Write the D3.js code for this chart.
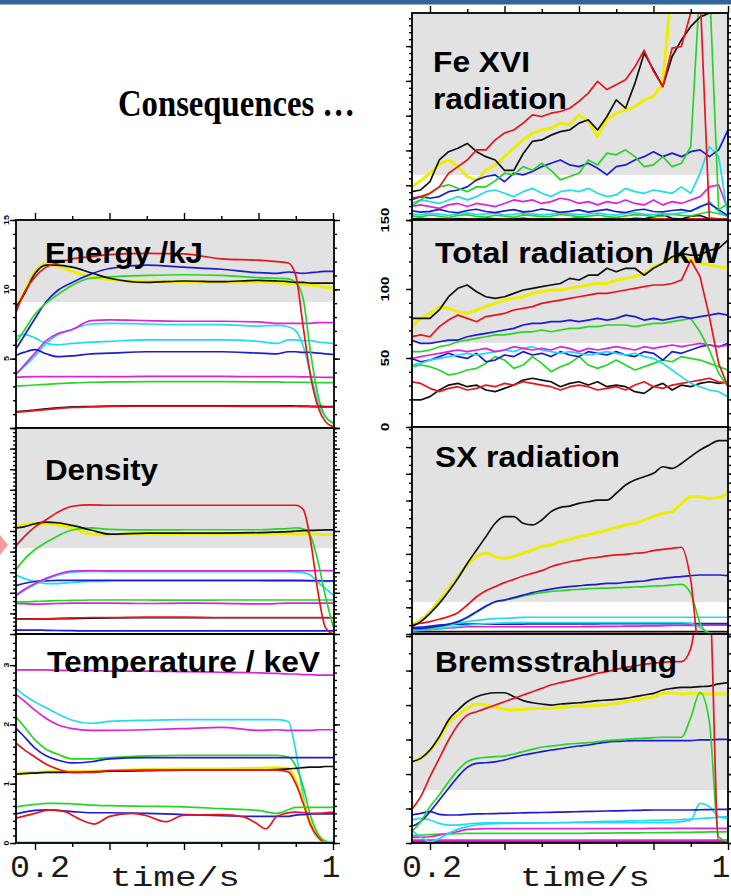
<!DOCTYPE html>
<html><head><meta charset="utf-8">
<script src="https://cdn.jsdelivr.net/npm/d3@7"></script>
<style>body{margin:0;background:#fff;} svg{display:block;}</style>
</head><body>
<script>
// ---------------- time grids ----------------
const tL = [0.15,0.17,0.2,0.23,0.26,0.3,0.35,0.4,0.5,0.6,0.7,0.8,0.85,0.88,0.9,0.92,0.94,0.96,0.98,1.0];
const tR = [0.15,0.175,0.2,0.225,0.25,0.275,0.3,0.325,0.35,0.375,0.4,0.425,0.45,0.475,0.5,0.525,0.55,0.575,0.6,0.625,0.65,0.675,0.7,0.725,0.75,0.775,0.8,0.825,0.85,0.875,0.9,0.925,0.95,0.975,1.0];
const tEnds = [0.15, 1.0];
const tpRed2Time = [0.15,0.2,0.24,0.28,0.3,0.32,0.36,0.4,0.46,0.5,0.55,0.6,0.7,0.76,0.79,0.82,0.85,0.9,0.95,1.0];
const xMajorTicks = [0.2,0.4,0.6,0.8,1.0];
const xMinorTicks = [0.3,0.5,0.7,0.9];

// ---------------- Energy /kJ ----------------
const enRed = [8.4,9.7,10.9,11.6,11.9,12.2,12.35,12.5,12.6,12.55,12.2,12.1,12.0,11.9,11.0,7.3,3.7,1.5,0.45,0.1];
const enBlack = [8.75,9.6,11.15,11.75,11.75,11.6,11.2,10.8,10.5,10.6,10.55,10.65,10.6,10.55,10.5,10.5,10.45,10.45,10.45,10.45];
const enYellow = [8.7,9.7,11.3,11.85,11.7,11.3,10.9,10.7,10.55,10.55,10.5,10.55,10.5,10.4,10.4,10.35,10.3,10.25,10.15,10.1];
const enBlue = [5.75,6.6,7.9,9.1,9.9,10.5,11.1,11.5,11.75,11.6,11.45,11.2,11.15,11.25,11.2,11.15,11.2,11.25,11.3,11.3];
const enGreen = [6.2,7.0,8.2,9.0,9.6,10.3,10.8,10.9,11.0,11.05,11.0,10.85,10.8,10.75,10.5,9.3,5.4,2.3,0.8,0.35];
const enMagenta = [3.9,4.5,5.4,6.3,6.8,7.1,7.75,7.8,7.75,7.7,7.7,7.65,7.55,7.55,7.55,7.55,7.55,7.6,7.6,7.6];
const enCyan = [6.6,6.75,6.5,6.1,6.0,6.1,6.2,6.25,6.35,6.35,6.35,6.25,6.1,6.35,6.35,6.3,6.3,6.2,6.15,6.1];
const enCyan2 = [3.9,4.4,5.2,6.1,6.7,7.1,7.5,7.55,7.5,7.45,7.45,7.35,7.4,7.3,7.0,5.9,3.9,1.8,0.8,0.4];
const enBlue2 = [5.25,5.45,5.65,5.35,5.15,5.2,5.35,5.4,5.5,5.5,5.5,5.4,5.35,5.5,5.5,5.45,5.45,5.4,5.35,5.3];
const enMagenta2 = [3.65,3.68,3.7,3.7,3.7,3.7,3.7,3.7,3.72,3.72,3.72,3.7,3.7,3.7,3.7,3.68,3.68,3.66,3.65,3.65];
const enGreen2 = [3.03,3.05,3.1,3.15,3.2,3.25,3.3,3.32,3.35,3.35,3.35,3.33,3.32,3.3,3.3,3.3,3.28,3.27,3.27,3.27];
const enBlack2 = [1.18,1.22,1.3,1.38,1.45,1.52,1.55,1.58,1.6,1.6,1.6,1.6,1.6,1.6,1.58,1.58,1.57,1.56,1.55,1.55];
const enRed2 = [1.15,1.18,1.25,1.33,1.4,1.48,1.52,1.55,1.57,1.57,1.57,1.56,1.56,1.55,1.55,1.54,1.53,1.52,1.5,1.5];
const enTickLabels = ["5","10","15"];

// ---------------- Density ----------------
const dnRed = [4.3,4.7,5.2,5.55,5.9,6.2,6.27,6.25,6.25,6.25,6.25,6.25,6.25,6.25,6.25,6.05,4.5,2.0,0.3,0.0];
const dnBlack = [5.15,5.2,5.35,5.43,5.4,5.27,5.05,4.85,4.9,4.9,4.9,4.92,4.95,4.97,5.0,5.02,5.03,5.04,5.05,5.05];
const dnYellow = [5.2,5.3,5.35,5.35,5.3,5.15,4.85,4.82,4.88,4.88,4.88,4.88,4.88,4.87,4.86,4.85,4.85,4.84,4.83,4.83];
const dnGreen = [3.15,3.6,4.1,4.45,4.75,5.05,5.15,5.08,5.05,5.06,5.06,5.06,5.1,5.12,5.15,5.1,4.75,3.5,1.8,0.4];
const dnMagenta = [1.9,2.15,2.45,2.7,2.9,3.05,3.08,3.06,3.06,3.06,3.06,3.06,3.06,3.06,3.07,3.07,3.07,3.08,3.08,3.08];
const dnCyan = [1.85,2.1,2.4,2.65,2.85,3.0,3.04,3.03,3.03,3.03,3.03,3.03,3.03,3.03,3.02,2.98,2.85,2.5,2.2,1.9];
const dnCyan2 = [2.85,2.7,2.55,2.45,2.45,2.5,2.55,2.56,2.57,2.57,2.57,2.57,2.57,2.57,2.56,2.56,2.56,2.55,2.55,2.55];
const dnBlue = [2.35,2.45,2.55,2.58,2.6,2.6,2.6,2.61,2.61,2.61,2.61,2.61,2.6,2.6,2.6,2.6,2.59,2.59,2.58,2.58];
const dnGreen2 = [1.56,1.56,1.58,1.6,1.62,1.63,1.65,1.65,1.65,1.64,1.65,1.65,1.65,1.65,1.65,1.65,1.65,1.65,1.65,1.65];
const dnMagenta2 = [1.48,1.47,1.45,1.46,1.48,1.5,1.5,1.5,1.48,1.5,1.49,1.46,1.48,1.5,1.5,1.5,1.5,1.5,1.5,1.5];
const dnRed2 = [0.72,0.72,0.73,0.74,0.76,0.78,0.8,0.8,0.82,0.82,0.8,0.8,0.8,0.8,0.8,0.8,0.8,0.8,0.8,0.8];
const dnBlack2 = [0.73,0.73,0.73,0.73,0.74,0.75,0.77,0.78,0.79,0.79,0.79,0.79,0.79,0.79,0.79,0.79,0.79,0.79,0.79,0.79];
const dnBlue2 = [0.19,0.19,0.19,0.18,0.17,0.16,0.15,0.15,0.15,0.15,0.15,0.15,0.15,0.15,0.15,0.15,0.15,0.15,0.15,0.15];

// ---------------- Temperature / keV ----------------
const tpMagenta = [2.92,2.92,2.92,2.92,2.91,2.91,2.91,2.9,2.9,2.89,2.88,2.87,2.86,2.85,2.85,2.84,2.84,2.83,2.83,2.83];
const tpCyan = [2.61,2.5,2.38,2.28,2.18,2.07,2.02,2.05,2.07,2.08,2.08,2.08,2.08,2.05,1.55,0.8,0.3,0.08,0.03,0.02];
const tpMagenta2 = [2.5,2.4,2.24,2.1,2.0,1.93,1.9,1.9,1.91,1.93,1.95,1.9,1.91,1.9,1.9,1.9,1.9,1.91,1.91,1.91];
const tpGreen = [2.12,1.97,1.74,1.58,1.5,1.42,1.42,1.44,1.47,1.48,1.48,1.48,1.48,1.45,1.3,0.95,0.45,0.15,0.03,0.0];
const tpBlue = [1.93,1.8,1.6,1.47,1.4,1.35,1.37,1.42,1.44,1.44,1.44,1.44,1.44,1.44,1.44,1.44,1.44,1.44,1.44,1.44];
const tpRed = [1.68,1.58,1.45,1.33,1.25,1.19,1.19,1.22,1.23,1.23,1.23,1.23,1.23,1.2,1.0,0.67,0.3,0.1,0.0,0.0];
const tpYellow = [1.18,1.18,1.19,1.2,1.2,1.21,1.21,1.22,1.24,1.25,1.25,1.26,1.27,1.26,1.05,0.7,0.32,0.1,0.0,0.0];
const tpBlack = [1.16,1.17,1.18,1.19,1.19,1.19,1.2,1.21,1.22,1.23,1.23,1.23,1.24,1.25,1.26,1.27,1.28,1.28,1.29,1.29];
const tpGreen2 = [0.61,0.63,0.65,0.67,0.67,0.66,0.64,0.63,0.62,0.61,0.58,0.55,0.5,0.56,0.6,0.6,0.6,0.6,0.6,0.6];
const tpBlue2 = [0.49,0.52,0.55,0.56,0.55,0.53,0.51,0.51,0.5,0.48,0.46,0.45,0.45,0.45,0.47,0.48,0.49,0.49,0.49,0.49];
const tpRed2 = [0.42,0.5,0.56,0.53,0.47,0.4,0.32,0.45,0.5,0.46,0.36,0.47,0.48,0.44,0.35,0.24,0.45,0.52,0.5,0.52];
const tpCyan0 = [0.01,0.01];
const tpTickLabels = ["0","1","2","3"];

// ---------------- Fe XVI radiation ----------------
const feBlack = [13.7,14.5,18.5,29,33,34.7,37,33,30.6,29,24,24,32,38,38.7,41,42.7,43.5,46.8,48.4,43.5,50,58,54,66,80.6,72.6,64.5,79,87,93.5,98,100,100,104];
const feRed = [10.5,11.3,12.9,16,22.6,25.8,29,33.9,33.9,38.7,42,43.5,46.8,50.8,50,51.6,52.4,54,57.3,61.3,67,63,65.3,67.7,74,82,71.8,64.5,83,83.9,100,110,1,0.5,0.5];
const feYellow = [16,19,22.6,27,29,25.8,21,19,24,26.6,30.6,34.7,38.7,42,43.5,44.4,46.8,46,50.8,47.6,40.3,48.4,51.6,53.2,54.8,58,59.7,66,115,115,115,115,115,115,115];
const feGreen = [6.5,9.7,12.9,16,17,15.3,13.7,16,16,19,22.6,21.8,25.8,24,27.4,24,19.4,21,22.6,29,26.6,32.3,31.5,33.9,30.6,25.8,26.6,30.6,25.8,27.4,35.5,115,115,5,8];
const feBlue = [9.7,11.3,10.5,11.3,13.7,14.5,16,19.4,21,21.8,18.5,22.6,21.8,23.4,25.8,27.4,29,26.6,25.8,27.4,25,21.8,25.8,26.6,29,30.6,33,30.6,32.3,30.6,33,33.9,30.6,33.9,43.5];
const feCyan = [8,9.7,8.9,8,9.7,11.3,9.7,11.3,13.7,14.5,12.9,11.3,13.7,15.3,12.9,11.3,13.7,14.5,13.7,15.3,12.9,11.3,12.1,15.3,13.7,12.9,14.5,13.7,12.9,16,12.9,22.6,35.5,30.6,1.6];
const feMagenta = [6.5,7.3,6.5,5.6,7.3,8,6.5,8,7.3,6.5,8,9.7,8.9,9.7,8,8.9,10.5,9.7,8,8.9,7.3,8.9,8,9.7,8,7.3,9.7,7.3,8.9,8,9.7,11.3,16,17,4.8];
const feBlue2 = [4.5,3.8,4.2,5.1,4.0,3.5,4.6,5.2,4.1,3.6,4.4,5.0,3.9,4.3,5.3,4.6,3.7,4.2,4.9,3.8,4.5,5.1,4.0,3.6,4.7,5.2,4.1,3.9,4.6,5.0,4.2,6.5,8.0,5.0,2.0];
const feCyan2 = [3.0,2.5,3.2,2.8,2.2,3.1,3.5,2.6,2.9,3.3,2.4,2.7,3.4,3.0,2.5,2.8,3.6,3.1,2.6,2.9,3.3,2.7,2.4,3.2,3.5,2.8,2.6,3.1,2.9,3.4,4.5,6,9,4,1.5];
const feGreen2 = [2.0,1.5,2.4,1.8,1.2,2.2,2.6,1.7,1.4,2.3,1.9,1.3,2.5,2.1,1.6,1.8,2.7,2.2,1.5,1.9,2.4,1.7,1.3,2.0,2.6,2.3,1.6,1.9,2.8,2.2,2.0,3,4,3,2];
const feBlack2 = [0.5,0.8,0.4,0.6,0.3,0.7,0.5,0.4,0.9,0.6,0.3,0.5,0.8,0.4,0.6,0.7,0.3,0.5,0.9,0.6,0.4,0.7,0.5,0.3,0.8,0.6,1.5,2.5,0.8,0.4,1.8,2.2,0.6,0.5,0.5];
const feRed2 = [0.6,0.6];

// ---------------- Total radiation /kW ----------------
const trBlack = [78.7,78.7,78.7,84.8,94.4,100.5,102.9,98,94.4,93.2,94.4,96.8,99.3,100.5,101.7,102.9,104,107.7,106.5,110,110,115,112.5,115,115,110,115,118.6,123.4,125.8,124.6,124.6,128,129.4,135.5];
const trYellow = [72.7,78.7,82.3,87.2,86,83.6,82.3,84.8,87.2,89.6,92,93.2,94.4,96.8,98,99.3,99.3,100.5,101.7,102.9,104,104,106.5,107.7,109,111.3,116.2,118.6,122.2,123.4,121,118.6,117.4,116.2,115];
const trRed = [65.4,66.7,65.4,72.7,77.5,81.1,78.7,76.3,80,81.1,82.3,84.8,86,87.2,89.6,90.8,92,93.2,94.4,95.6,96.8,96.8,98,99.3,100.5,101.7,102.9,102.9,104,106.5,121,109,80,46,29.2];
const trBlue = [63,60.6,60.6,61.8,63,63,65.4,66.7,67.9,69,70.3,71.5,73.9,75.1,75.1,76.3,76.3,77.5,76.3,77.5,78.7,77.5,78.7,81.1,80,77.5,78.7,77.5,78.7,80,78.7,80,81.1,82.3,81.1];
const trGreen = [54.6,54.6,55.8,58.2,59.4,61.8,63,64.2,65.4,66.7,66.7,67.9,69,69,70.3,69,70.3,71.5,71.5,72.7,72.7,73.9,73.9,73.9,72.7,73.9,75.1,75.1,76.3,77.5,78.7,69,55.8,38.9,29.2];
const trMagenta = [49.7,51,52.2,53.4,54.6,55.8,54.6,55.8,57,54.6,55.8,58.2,57,55.8,57,55.8,58.2,57,54.6,57,55.8,57,58.2,57,55.8,58.2,57,58.2,59.4,58.2,59.4,60.6,59.4,58.2,59.4];
const trCyan = [44.9,46.1,48.5,49.7,51,52.2,53.4,52.2,53.4,54.6,55.8,54.6,57,58.2,55.8,54.6,53.4,54.6,53.4,52.2,53.4,54.6,53.4,52.2,53.4,51,49.7,46.1,41.3,36.5,31.6,29.2,26.8,25.6,22];
const trBlue2 = [49.7,47.3,48.5,51,53.4,51,49.7,53.4,47.3,48.5,52.2,51,54.6,52.2,53.4,51,54.6,52.2,51,54.6,53.4,52.2,54.6,52.2,51,54.6,53.4,48.5,54.6,53.4,55.8,58.2,59.4,58.2,60.6];
const trGreen2 = [43.7,44.9,43.7,41.3,37.7,38.9,41.3,42.5,46.1,51,48.5,42.5,44.9,51,46.1,40.1,43.7,46.1,51,44.9,42.5,44.9,48.5,44.9,41.3,43.7,46.1,48.5,47.3,51,49.7,48.5,46.1,43.7,41.3];
const trRed2 = [32.8,31.6,28,25.6,28,29.2,26.8,28,30.4,29.2,31.6,30.4,32.8,31.6,30.4,29.2,26.8,29.2,30.4,29.2,26.8,28,29.2,26.8,30.4,32.8,29.2,28,30.4,31.6,32.8,34,35.3,32.8,31.6];
const trBlack2 = [19.6,19.6,22,26.8,30.4,31.6,29.2,30.4,26.8,25.6,28,30.4,34,35.3,34,32.8,29.2,31.6,32.8,30.4,32.8,29.2,30.4,29.2,25.6,24.4,29.2,31.6,26.8,30.4,29.2,31.6,32.8,31.6,32.8];
const trTickLabels = ["0","50","100","150"];

// ---------------- SX radiation ----------------
const sxBlack = [3.5,6,10,14.8,20.5,26.9,34.1,40.6,47,53.5,56.7,56.7,53.5,52.7,55.1,59.1,61.2,61.8,63.1,63.9,64.7,64.7,68,72,74.4,76,77.6,80.8,80,82.4,85.7,88.9,91.3,93.4,93.4];
const sxYellow = [4.3,6.8,10.8,16.4,22.1,27.7,33.3,37.4,39,37.4,36.6,37.4,39,40.6,42.2,43,44.6,45.7,47,47.8,49,50.2,51.5,52.7,53.5,55.1,56.7,58.3,59.1,63.1,66.3,66.3,65.5,66,68];
const sxRed = [4.3,5.2,6,7.1,8.4,10.3,14,18,20.9,22.9,24.8,26.4,28,29.3,30.6,32.5,33.8,34.9,35.7,36.6,37,37.7,38.2,38.5,39,39.3,40.3,40.9,41.4,41.9,26,-10,-10,-10,-10];
const sxBlue = [2.7,2.7,3.2,3.9,4.8,6,8.1,10.8,13.5,15.6,16.4,17.6,18.8,20,20.9,21.7,22.4,22.9,23.3,23.7,24,24.5,24.5,25,25.3,25.6,26.4,26.9,27.4,27.7,28.2,28.5,28.5,28.5,28.2];
const sxGreen = [2.3,2.3,2.7,3.5,4.5,5.8,7.9,10.5,13.2,15.5,16.4,17.2,18.4,19.3,20,20.6,20.9,21.3,21.6,21.9,22.1,22.2,22.4,22.5,22.7,22.9,23.2,23.3,23.7,24,19.6,5.2,0.3,-0.5,-0.5];
const sxCyan = [1.9,2.3,2.7,3.5,4.3,5.2,6,6.6,7.1,7.4,7.6,7.8,8,8.1,8.1,8.1,8.1,8.1,8.1,8.1,8.1,8.1,8.1,8.1,8.1,8.1,8.1,8.1,8.1,8.1,8.1,8.1,8.1,8.1,8.1];
const sxCyan2 = [1.5,1.8,2.2,2.7,3.2,3.7,4.2,4.6,5,5.2,5.4,5.5,5.5,5.5,5.5,5.5,5.5,5.5,5.5,5.5,5.5,5.5,5.5,5.5,5.5,5.5,5.5,5.5,5.5,5.5,5.3,3,0.5,0,0];
const sxMagenta = [1.6,1.8,2.1,2.5,2.9,3.2,3.5,3.5,3.5,3.5,3.5,3.5,3.5,3.5,3.5,3.5,3.5,3.5,3.5,3.6,3.6,3.7,3.7,3.8,3.8,3.9,3.9,4,4.1,4.1,4.2,4.2,4.3,4.3,4.3];
const sxBlue2 = [3,3.3,3.8,4.3,4.6,4.8,4.8,4.8,4.8,4.8,4.8,4.8,4.8,4.9,4.9,4.9,4.9,4.9,4.9,4.9,4.9,5,5,5,5,5,5,5,5,5,5,5,5,5,5];
const sxBlack2 = [1.1,1.1];
const sxRed2 = [0.2,0.2];

// ---------------- Bremsstrahlung ----------------
const brBlack = [38.9,40.5,44.5,50.9,58.9,63.6,67.6,70,71.3,71.9,71.9,70,68.1,67.1,66.5,66,66.5,66.8,67.1,67.6,68.1,68.4,68.7,69.2,70,70.8,71.6,73.2,74,74.5,74.5,74.8,75.1,76.1,76.7];
const brYellow = [38.9,40.5,44.2,50.1,57.3,61.2,64.4,66.5,66,64.9,64,63.6,64,64.3,64.3,64.4,64.9,65.2,65.6,65.6,65.9,66.2,66.8,67.6,68.4,69.2,70,71.6,71.9,71.3,71.6,71.6,71.3,71.3,71.3];
const brRed = [15.8,22.2,31.7,40.5,49.3,56.5,61.2,62.8,64.4,66,67.6,69.2,70.8,72.4,74,75.6,76.7,77.7,78.8,79.9,81.2,82,83.1,84,84.7,85.5,86,86.4,86.8,86.8,93.1,115,115,0,0];
const brGreen = [5.4,10.2,17.4,23,29.3,34.9,38.9,40.5,41,41.3,41.6,42.6,43.7,44.8,45.8,46.4,46.9,47.4,47.7,48,48.5,49,49.3,49.6,49.9,50.2,50.4,50.6,50.6,50.6,60,72,58,3,0.6];
const brBlue = [7.8,10.2,15,20.6,26.2,31.7,36.2,38.1,38.4,38.8,39.7,41,42.1,42.9,43.7,44.5,45.1,45.8,46.4,46.9,47.7,48.3,48.6,48.8,49,49,49,49,49,49,49,49.3,49.3,49.6,49.6];
const brBlue2 = [13.4,14.2,15,13.7,13.4,13.4,13.7,13.9,14,14.1,14.2,14.3,14.4,14.5,14.6,14.7,14.8,14.9,15,15.1,15.2,15.3,15.4,15.5,15.6,15.7,15.8,15.8,15.8,15.8,15.8,15.9,16,16.1,16.1];
const brCyan = [11,11.8,11,9.4,8.6,8.6,9.1,9.4,9.6,9.7,9.7,9.7,9.7,9.7,9.7,9.7,9.7,9.7,9.7,9.7,9.7,9.7,9.7,9.7,9.7,9.7,9.7,9.7,9.8,10.2,11,19,17.4,12.6,11.8];
const brCyan2 = [6.2,3,0.6,2.2,4.6,6.5,7.8,8.6,9.1,9.3,9.4,9.4,9.5,9.5,9.6,9.7,9.8,9.9,10,10.1,10.2,10.3,10.4,10.5,10.6,10.7,10.8,10.9,11,11.2,11.4,11.7,12,12.3,12.6];
const brMagenta = [2.7,2.8,3,3.8,4.6,5.5,6.5,6.7,6.9,6.9,6.9,6.9,6.9,6.9,6.9,6.9,6.9,6.9,6.9,6.9,6.9,6.9,6.9,6.9,6.9,6.9,7,7,7,7,7,7,7,7,7];
const brGreen2 = [3.5,3.8,4,4.2,4.4,4.5,4.6,4.6,4.6,4.6,4.6,4.6,4.6,4.6,4.6,4.6,4.6,4.6,4.6,4.7,4.7,4.7,4.8,4.8,4.8,4.9,4.9,5,5,5.1,5.1,5.2,5.3,5.3,5.4];
const brMagenta2 = [1.4,1.4];
const brRed2 = [0.6,0.6];

// ---------------- drawing ----------------
const W = 731, H = 896;
const COL = {k:"#111111", r:"#e8141c", y:"#eeee00", g:"#26d626", b:"#1c1cd2", c:"#1fdcee", m:"#dd22dd"};
const svg = d3.select("body").append("svg").attr("width", W).attr("height", H);
const defs = svg.append("defs");
svg.append("rect").attr("width", W).attr("height", H).attr("fill", "#fff");

const xL = d3.scaleLinear().domain([0.2, 1.0]).range([35, 333]);
const xR = d3.scaleLinear().domain([0.2, 1.0]).range([430, 728]);
const smooth = d3.curveMonotoneX, jag = d3.curveLinear;

const panels = [
  {id:"en", x:xL, x0:16, x1:334, top:220, bottom:428, gray:302, domain:[0,15], curve:smooth,
   majors:[0,5,10,15], minors:d3.range(0,15.01,1), xTicks:"top",
   labels:[{t:"Energy /kJ", x:45, y:263, w:158}],
   series:[["y",tL,enYellow],["c",tL,enCyan],["c",tL,enCyan2],["m",tL,enMagenta],["m",tL,enMagenta2],
           ["b",tL,enBlue2],["b",tL,enBlue],["g",tL,enGreen2],["g",tL,enGreen],["k",tL,enBlack2],["r",tL,enRed2],["k",tL,enBlack],["r",tL,enRed]]},
  {id:"dn", x:xL, x0:16, x1:334, top:428, bottom:634, gray:548, domain:[0,10], curve:smooth,
   majors:d3.range(0,10.01,1), minors:d3.range(0,10.01,0.2),
   labels:[{t:"Density", x:45, y:480, w:113}],
   series:[["y",tL,dnYellow],["c",tL,dnCyan2],["b",tL,dnBlue],["c",tL,dnCyan],["m",tL,dnMagenta],["m",tL,dnMagenta2],["g",tL,dnGreen2],
           ["k",tL,dnBlack2],["r",tL,dnRed2],["b",tL,dnBlue2],["g",tL,dnGreen],["k",tL,dnBlack],["r",tL,dnRed]]},
  {id:"tp", x:xL, x0:16, x1:334, top:634, bottom:843, gray:null, domain:[0,3.525], curve:smooth,
   majors:[0,1,2,3], minors:d3.range(0,3.5,0.125), xTicks:"bottom",
   labels:[{t:"Temperature / keV", x:47, y:672, w:273}],
   series:[["m",tL,tpMagenta],["c",tL,tpCyan],["m",tL,tpMagenta2],["y",tL,tpYellow],["g",tL,tpGreen],["b",tL,tpBlue],
           ["k",tL,tpBlack],["r",tL,tpRed],["g",tL,tpGreen2],["b",tL,tpBlue2],["r",tpRed2Time,tpRed2],["c",tEnds,tpCyan0]]},
  {id:"fe", x:xR, x0:412, x1:728, top:13, bottom:220, gray:175, domain:[0,100], curve:jag,
   majors:[0,16.8,33.6,50.4,67.2,84], minors:d3.range(0,100,3.36), xTicks:"top",
   labels:[{t:"Fe XVI", x:433, y:72, w:97},{t:"radiation", x:433, y:109, w:134}],
   series:[["y",tR,feYellow],["r",tEnds,feRed2],["k",tR,feBlack2],["g",tR,feGreen2],["c",tR,feCyan2],["b",tR,feBlue2],["m",tR,feMagenta],
           ["c",tR,feCyan],["b",tR,feBlue],["g",tR,feGreen],["k",tR,feBlack],["r",tR,feRed]]},
  {id:"tr", x:xR, x0:412, x1:728, top:220, bottom:427, gray:343, domain:[0,150], curve:jag,
   majors:[0,50,100,150], minors:d3.range(0,150.1,10),
   labels:[{t:"Total radiation /kW", x:435, y:263, w:285}],
   series:[["y",tR,trYellow],["k",tR,trBlack2],["r",tR,trRed2],["g",tR,trGreen2],["b",tR,trBlue2],["c",tR,trCyan],["m",tR,trMagenta],
           ["g",tR,trGreen],["b",tR,trBlue],["r",tR,trRed],["k",tR,trBlack]]},
  {id:"sx", x:xR, x0:412, x1:728, top:427, bottom:634, gray:602, domain:[0,100], curve:smooth,
   majors:d3.range(0,100,12.9), minors:d3.range(0,100,4.3),
   labels:[{t:"SX radiation", x:435, y:467, w:185}],
   series:[["y",tR,sxYellow],["r",tEnds,sxRed2],["k",tEnds,sxBlack2],["m",tR,sxMagenta],["b",tR,sxBlue2],["c",tR,sxCyan2],["c",tR,sxCyan],
           ["g",tR,sxGreen],["b",tR,sxBlue],["r",tR,sxRed],["k",tR,sxBlack]]},
  {id:"br", x:xR, x0:412, x1:728, top:634, bottom:843, gray:790, domain:[0,100], curve:smooth,
   majors:d3.range(0,100,16.5), minors:d3.range(0,100,8.25), xTicks:"bottom",
   labels:[{t:"Bremsstrahlung", x:435, y:672, w:242}],
   series:[["y",tR,brYellow],["r",tEnds,brRed2],["m",tEnds,brMagenta2],["g",tR,brGreen2],["m",tR,brMagenta],["c",tR,brCyan2],["c",tR,brCyan],
           ["b",tR,brBlue2],["b",tR,brBlue],["g",tR,brGreen],["k",tR,brBlack],["r",tR,brRed]]}
];

function tickAxis(g, axis) {
  g.call(axis);
  g.select(".domain").remove();
  g.selectAll(".tick line").attr("stroke", "#000").attr("stroke-width", 1.4);
}

panels.forEach(p => {
  const y = d3.scaleLinear().domain(p.domain).range([p.bottom, p.top]);
  p.y = y;
  const g = svg.append("g");
  defs.append("clipPath").attr("id", "clip-" + p.id).append("rect")
    .attr("x", p.x0).attr("y", p.top).attr("width", p.x1 - p.x0).attr("height", p.bottom - p.top);
  if (p.gray !== null) {
    g.append("rect").attr("x", p.x0).attr("y", p.top).attr("width", p.x1 - p.x0)
      .attr("height", p.gray - p.top).attr("fill", "#e2e2e2");
  }
  const lg = g.append("g").attr("clip-path", `url(#clip-${p.id})`);
  p.series.forEach(([c, ts, vs]) => {
    const line = d3.line().x((d, i) => p.x(ts[i])).y(d => y(d)).curve(p.curve);
    lg.append("path").datum(vs).attr("d", line).attr("fill", "none")
      .attr("stroke", COL[c]).attr("stroke-width", c === "y" ? 3 : 1.7)
      .attr("stroke-linejoin", "round").attr("stroke-linecap", "round");
  });
  tickAxis(g.append("g").attr("transform", `translate(${p.x0},0)`), d3.axisLeft(y).tickValues(p.minors).tickSize(3).tickFormat(""));
  tickAxis(g.append("g").attr("transform", `translate(${p.x0},0)`), d3.axisLeft(y).tickValues(p.majors).tickSize(6).tickFormat(""));
  tickAxis(g.append("g").attr("transform", `translate(${p.x1},0)`), d3.axisRight(y).tickValues(p.minors).tickSize(3).tickFormat(""));
  tickAxis(g.append("g").attr("transform", `translate(${p.x1},0)`), d3.axisRight(y).tickValues(p.majors).tickSize(6).tickFormat(""));
  if (p.xTicks === "top") {
    tickAxis(g.append("g").attr("transform", `translate(0,${p.top})`), d3.axisTop(p.x).tickValues(xMajorTicks).tickSize(7).tickFormat(""));
    tickAxis(g.append("g").attr("transform", `translate(0,${p.top})`), d3.axisTop(p.x).tickValues(xMinorTicks).tickSize(4).tickFormat(""));
  } else if (p.xTicks === "bottom") {
    tickAxis(g.append("g").attr("transform", `translate(0,${p.bottom})`), d3.axisBottom(p.x).tickValues(xMajorTicks).tickSize(7).tickFormat(""));
    tickAxis(g.append("g").attr("transform", `translate(0,${p.bottom})`), d3.axisBottom(p.x).tickValues(xMinorTicks).tickSize(4).tickFormat(""));
  }
  g.append("rect").attr("x", p.x0).attr("y", p.top).attr("width", p.x1 - p.x0)
    .attr("height", p.bottom - p.top).attr("fill", "none").attr("stroke", "#000").attr("stroke-width", 1.8);
  p.labels.forEach(l => {
    g.append("text").attr("x", l.x).attr("y", l.y).text(l.t)
      .attr("font-family", "'Liberation Sans', Arial, sans-serif").attr("font-weight", "bold")
      .attr("font-size", 30).attr("fill", "#000")
      .attr("textLength", l.w).attr("lengthAdjust", "spacingAndGlyphs");
  });
});

// rotated y tick labels
function rotLabel(x, y, t, size, sx) {
  svg.append("text").attr("transform", `translate(${x},${y}) rotate(-90) scale(${sx},1)`)
    .attr("text-anchor", "middle").attr("font-family", "'Liberation Sans', Arial, sans-serif")
    .attr("font-weight", "bold").attr("font-size", size).attr("fill", "#000").text(t);
}
const pEn = panels[0], pTp = panels[2], pTr = panels[4];
[5,10,15].forEach((v,i) => rotLabel(9, pEn.y(v), enTickLabels[i], 8, 1.1));
[0,1,2,3].forEach((v,i) => rotLabel(9, pTp.y(v), tpTickLabels[i], 8, 1.1));
[0,50,100,150].forEach((v,i) => rotLabel(389, pTr.y(v), trTickLabels[i], 11, 1.35));

// bottom axis texts
const mono = "'Liberation Mono', 'Courier New', monospace";
function monoText(x, y, t, size, w) {
  const tx = svg.append("text").attr("x", x).attr("y", y).attr("text-anchor", "middle")
    .attr("font-family", mono).attr("font-size", size).attr("fill", "#1a1a1a").text(t);
  if (w) tx.attr("textLength", w).attr("lengthAdjust", "spacingAndGlyphs");
}
monoText(xL(0.2) + 5, 877, "0.2", 31, 60);
monoText(xL(1.0) - 2, 877, "1", 31);
monoText(175, 886, "time/s", 28, 130);
monoText(xR(0.2) + 2, 877, "0.2", 31, 60);
monoText(xR(1.0) - 7, 877, "1", 31);
monoText(585, 886, "time/s", 28, 130);

// title and decorations
svg.append("text").attr("x", 118).attr("y", 116).text("Consequences …")
  .attr("font-family", "'Liberation Serif', 'Times New Roman', serif").attr("font-weight", "bold")
  .attr("font-size", 37).attr("fill", "#000").attr("textLength", 237).attr("lengthAdjust", "spacingAndGlyphs");
svg.append("rect").attr("x", 0).attr("y", 0).attr("width", W).attr("height", 4.5).attr("fill", "#2f6598");
svg.append("path").attr("d", "M0,535 L8,545 L0,555 Z").attr("fill", "#f59a9a");
</script>
</body></html>
